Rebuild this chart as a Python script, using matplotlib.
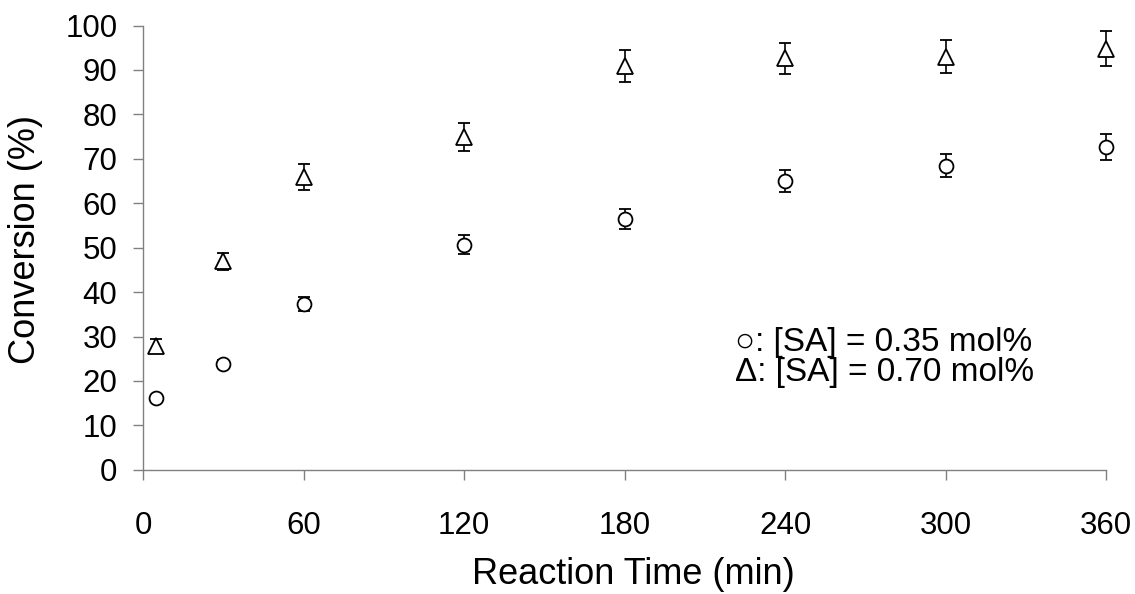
import matplotlib
matplotlib.use('Agg')
import matplotlib.pyplot as plt

# reaction time (min)
times = [5, 30, 60, 120, 180, 240, 300, 360]

# [SA] = 0.35 mol% (circles)
conv_low = [16.1, 23.8, 37.4, 50.7, 56.4, 65.0, 68.5, 72.6]
err_low = [0.8, 0.9, 1.6, 2.1, 2.2, 2.4, 2.6, 2.9]

# [SA] = 0.70 mol% (triangles)
conv_high = [27.9, 46.9, 65.9, 74.9, 90.9, 92.6, 93.0, 94.8]
err_high = [1.5, 1.9, 2.9, 3.1, 3.6, 3.5, 3.7, 3.9]

x_ticks = [0, 60, 120, 180, 240, 300, 360]
y_ticks = list(range(0, 101, 10))

plt.rcParams['font.family'] = ['Liberation Sans', 'DejaVu Sans']
FS = 22.5       # tick labels
FS_LABEL = 26   # axis titles
FS_NOTE = 24    # in-plot legend text

fig = plt.figure(figsize=(11.35, 5.94), dpi=100)
ax = fig.add_axes([0.126, 0.209, 0.8485, 0.748])

err_style = dict(ecolor='black', elinewidth=1.2, capsize=4.5, capthick=1.6, linestyle='none')
series = [
    (conv_high, err_high, '^', 12),
    (conv_low, err_low, 'o', 10),
]
for vals, errs, mk, ms in series:
    cont = ax.errorbar(times, vals, yerr=errs, marker=mk, markersize=ms,
                       markerfacecolor='white', markeredgecolor='black',
                       markeredgewidth=1.3, zorder=3, **err_style)
    for art in cont.get_children():
        art.set_clip_on(False)

ax.set_xlim(0, 360)
ax.set_ylim(0, 100)
ax.set_xticks(x_ticks)
ax.set_yticks(y_ticks)
ax.tick_params(axis='both', direction='out', length=7.5, width=1, color='#808080',
               labelsize=FS)
ax.tick_params(axis='x', pad=22)
ax.tick_params(axis='y', pad=11)

for side in ['top', 'right']:
    ax.spines[side].set_visible(False)
for side in ['left', 'bottom']:
    ax.spines[side].set_color('#808080')
    ax.spines[side].set_linewidth(1)

ax.set_xlabel('Reaction Time (min)', fontsize=FS_LABEL)
ax.set_ylabel('Conversion (%)', fontsize=FS_LABEL)
ax.xaxis.set_label_coords(0.509, -0.196)
ax.yaxis.set_label_coords(-0.1035, 0.518)

ax.text(0.615, 0.286, '\u25cb: [SA] = 0.35 mol%', transform=ax.transAxes,
        fontsize=FS_NOTE, ha='left', va='center')
ax.text(0.615, 0.218, '\u0394: [SA] = 0.70 mol%', transform=ax.transAxes,
        fontsize=FS_NOTE, ha='left', va='center')

fig.savefig('out.png', dpi=100)
